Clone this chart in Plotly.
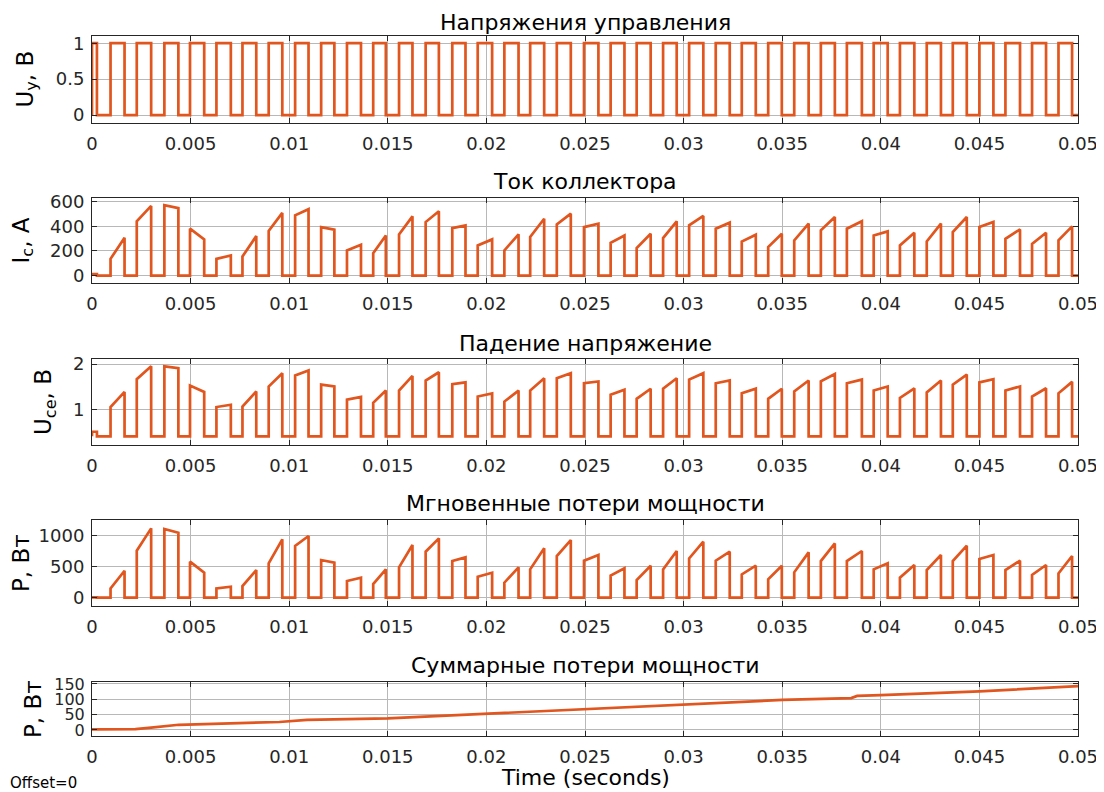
import numpy as np
import plotly.graph_objects as go

# the page body adds an 8px margin, so the figure is drawn 8px smaller and all
# pixel positions below are given in window coordinates and shifted by OFF
OFF = 8
W, H = 1104 - OFF, 792 - OFF

# ---- data ----
# switching pulses: turn-on and turn-off times (s)
t_on = [0.0, 0.00094, 0.00227, 0.00367, 0.00497, 0.00631, 0.00763, 0.00896, 0.01030, 0.01162,
        0.01293, 0.01426, 0.01557, 0.01692, 0.01827, 0.01956, 0.02091, 0.02222, 0.02357, 0.02495,
        0.02630, 0.02762, 0.02896, 0.03028, 0.03163, 0.03295, 0.03429, 0.03561, 0.03696, 0.03828,
        0.03964, 0.04097, 0.04233, 0.04365, 0.04500, 0.04632, 0.04767, 0.04901]
t_off = [0.00025, 0.00165, 0.00300, 0.00438, 0.00569, 0.00704, 0.00833, 0.00965, 0.01098, 0.01229,
         0.01364, 0.01490, 0.01625, 0.01759, 0.01894, 0.02029, 0.02163, 0.02293, 0.02428, 0.02568,
         0.02700, 0.02833, 0.02965, 0.03100, 0.03234, 0.03366, 0.03498, 0.03634, 0.03767, 0.03904,
         0.04035, 0.04170, 0.04305, 0.04436, 0.04571, 0.04706, 0.04838, 0.04970]

# collector current at start / end of each pulse (A)
ic_start = [12, 136, 441, 571, 381, 136, 155, 362, 490, 394, 204, 182, 335, 435, 386, 245, 204, 313, 416,
            394, 267, 223, 305, 408, 381, 277, 231, 286, 367, 381, 326, 245, 277, 354, 394, 299, 258, 286]
ic_end = [12, 307, 566, 548, 294, 163, 321, 509, 539, 373, 250, 326, 481, 522, 408, 294, 335, 462, 503,
          422, 326, 340, 441, 484, 430, 332, 340, 422, 476, 441, 359, 348, 422, 476, 435, 375, 348, 400]

# collector-emitter voltage at start / end of each pulse (V)
uce_off = 0.42
uce_start = [0.52, 1.06, 1.67, 1.95, 1.53, 1.06, 1.07, 1.51, 1.75, 1.55, 1.22, 1.15, 1.42, 1.64, 1.56, 1.29,
             1.18, 1.42, 1.69, 1.58, 1.33, 1.24, 1.46, 1.66, 1.58, 1.36, 1.24, 1.40, 1.62, 1.58, 1.42, 1.26,
             1.38, 1.55, 1.60, 1.42, 1.29, 1.36]
uce_end = [0.52, 1.39, 1.95, 1.91, 1.39, 1.11, 1.40, 1.80, 1.86, 1.51, 1.28, 1.42, 1.74, 1.82, 1.60, 1.36,
           1.42, 1.69, 1.80, 1.62, 1.44, 1.46, 1.69, 1.80, 1.64, 1.46, 1.46, 1.64, 1.78, 1.66, 1.51, 1.47,
           1.64, 1.77, 1.67, 1.51, 1.47, 1.61]

# instantaneous power loss at start / end of each pulse (W)
p_start = [5, 150, 758, 1107, 581, 150, 188, 554, 833, 607, 269, 220, 489, 742, 591, 339, 242, 457, 672,
           597, 355, 285, 457, 634, 597, 376, 296, 409, 591, 591, 457, 323, 446, 591, 624, 446, 366, 392]
p_end = [5, 435, 1118, 1048, 403, 177, 446, 941, 995, 564, 323, 457, 849, 957, 650, 403, 489, 796, 930,
         688, 473, 516, 753, 903, 742, 516, 516, 731, 876, 753, 554, 527, 688, 839, 688, 597, 527, 672]

# cumulative power loss (W)
t_sum = [0.0, 0.0022, 0.0030, 0.0038, 0.0044, 0.0095, 0.0109, 0.0150, 0.0170, 0.0200, 0.0230,
         0.0250, 0.0300, 0.0350, 0.0385, 0.0388, 0.0400, 0.0450, 0.0500]
p_sum = [2, 3, 8, 12, 17, 26, 33, 38, 44, 55, 62, 70, 83, 98, 104, 111, 114, 126, 143]

t_end = 0.05
xtick_vals = [0, 0.005, 0.01, 0.015, 0.02, 0.025, 0.03, 0.035, 0.04, 0.045, 0.05]
xtick_text = ["0", "0.005", "0.01", "0.015", "0.02", "0.025", "0.03", "0.035", "0.04", "0.045", "0.05"]

titles = ["Напряжения управления", "Ток коллектора", "Падение напряжение",
          "Мгновенные потери мощности", "Суммарные потери мощности"]
ylabels = ["U<sub>y</sub>, В", "I<sub>c</sub>, A", "U<sub>ce</sub>, В", "P, Вт", "P, Вт"]
ytick_vals = [[0, 0.5, 1], [0, 200, 400, 600], [1, 2], [0, 500, 1000], [0, 50, 100, 150]]
ytick_text = [["0", "0.5", "1"], ["0", "200", "400", "600"], ["1", "2"],
              ["0", "500", "1000"], ["0", "50", "100", "150"]]
yranges = [[-0.11, 1.1], [-60, 630], [0.23, 2.11], [-134, 1253], [-19.6, 156.5]]
ytick_size = [18, 18, 18, 18, 16]

# ---- layout geometry (window pixels) ----
x_left, x_right = 92, 1078
panel_px = [(36, 123), (198, 283), (359, 445), (520, 606), (682, 736)]
title_y = [22, 181, 343, 503, 665]
ylabel_x = [26, 22, 45, 21, 33]

COLOR = "#E0561E"
FONT = "DejaVu Sans"


def px(x):
    return (x - OFF) / W


def py(y):
    return 1 - (y - OFF) / H


def pulse_wave(base, on, off, s, e):
    xs, ys = [0.0], [base]
    for a, b, v1, v2 in zip(on, off, s, e):
        xs += [a, a, b, b]
        ys += [base, v1, v2, base]
    xs.append(t_end)
    ys.append(base)
    return xs, ys


series = [
    pulse_wave(0, t_on, t_off, [1] * len(t_on), [1] * len(t_on)),
    pulse_wave(0, t_on, t_off, ic_start, ic_end),
    pulse_wave(uce_off, t_on, t_off, uce_start, uce_end),
    pulse_wave(0, t_on, t_off, p_start, p_end),
    (t_sum, p_sum),
]

fig = go.Figure()
layout = dict(width=W, height=H, margin=dict(l=0, r=0, t=0, b=0, autoexpand=False),
              template="none",
              paper_bgcolor="white", plot_bgcolor="white", showlegend=False,
              font=dict(family=FONT, color="#262626"))
annotations = []
for i in range(5):
    k = "" if i == 0 else str(i + 1)
    xs, ys = series[i]
    fig.add_trace(go.Scatter(x=xs, y=ys, mode="lines", xaxis="x" + k, yaxis="y" + k,
                             line=dict(color=COLOR, width=2.7), hoverinfo="skip"))
    top, bot = panel_px[i]
    common = dict(ticks="inside", ticklen=5, tickcolor="#262626", showline=True, linecolor="#262626",
                  linewidth=1, mirror="allticks", showgrid=True, gridcolor="#b8b8b8", gridwidth=1,
                  zeroline=False, automargin=False)
    layout["xaxis" + k] = dict(domain=[px(x_left), px(x_right)], anchor="y" + k, range=[0, t_end],
                               tickvals=xtick_vals, ticktext=xtick_text, ticklabelstandoff=4,
                               tickfont=dict(size=18, family=FONT, color="#262626"), **common)
    layout["yaxis" + k] = dict(domain=[py(bot), py(top)], anchor="x" + k, range=yranges[i],
                               tickvals=ytick_vals[i], ticktext=ytick_text[i], ticklabelstandoff=3,
                               tickfont=dict(size=ytick_size[i], family=FONT, color="#262626"),
                               **common)
    annotations.append(dict(text=titles[i], x=px((x_left + x_right) / 2), y=py(title_y[i]),
                            xref="paper", yref="paper", xanchor="center", yanchor="middle",
                            showarrow=False, font=dict(size=22, family=FONT, color="#000000")))
    annotations.append(dict(text=ylabels[i], x=px(ylabel_x[i]), y=py((top + bot) / 2),
                            xref="paper", yref="paper", xanchor="center", yanchor="middle",
                            textangle=-90, showarrow=False,
                            font=dict(size=23, family=FONT, color="#000000")))

annotations.append(dict(text="Time (seconds)", x=px((x_left + x_right) / 2), y=py(777),
                        xref="paper", yref="paper", xanchor="center", yanchor="middle",
                        showarrow=False, font=dict(size=22, family=FONT, color="#000000")))
annotations.append(dict(text="Offset=0", x=px(8), y=py(783), xref="paper", yref="paper",
                        xanchor="left", yanchor="middle", showarrow=False,
                        font=dict(size=15, family=FONT, color="#000000")))
layout["annotations"] = annotations
fig.update_layout(**layout)
fig.write_html("out.html")
